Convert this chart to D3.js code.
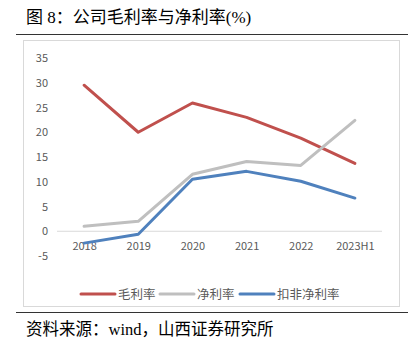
<!DOCTYPE html>
<html lang="zh">
<head>
<meta charset="UTF-8">
<title>公司毛利率与净利率</title>
<script src="https://d3js.org/d3.v7.min.js"></script>
<style>
    body { margin: 0; background: #fff; }
    svg { display: block; }
</style>
</head>
<body>
<svg id="chart" width="419" height="354"></svg>
<script>
    // data
    const years = ["2018", "2019", "2020", "2021", "2022", "2023H1"];
    const grossMargin = [29.5, 20.0, 25.9, 23.0, 18.8, 13.7];
    const netMargin = [1.0, 2.0, 11.5, 14.1, 13.3, 22.4];
    const deductedNetMargin = [-2.4, -0.6, 10.5, 12.1, 10.1, 6.7];
    const yTicks = [-5, 0, 5, 10, 15, 20, 25, 30, 35];
    const seriesNames = ["毛利率", "净利率", "扣非净利率"];

    const series = [
        { name: seriesNames[0], values: grossMargin, color: "#C0504D" },
        { name: seriesNames[1], values: netMargin, color: "#BFBFBF" },
        { name: seriesNames[2], values: deductedNetMargin, color: "#4F81BD" }
    ];

    const svg = d3.select("#chart");
    const cjk = "'Noto Sans CJK SC', sans-serif";
    const serifCjk = "'Liberation Serif', 'Noto Sans CJK SC', serif";

    // title + rules
    svg.append("text")
        .attr("x", 26).attr("y", 23)
        .attr("font-family", serifCjk)
        .attr("font-size", 17)
        .attr("fill", "#000")
        .text("图 8：公司毛利率与净利率(%)");

    svg.append("line")
        .attr("x1", 16).attr("x2", 408).attr("y1", 34.5).attr("y2", 34.5)
        .attr("stroke", "#333").attr("stroke-width", 1);

    svg.append("rect")
        .attr("x", 23.5).attr("y", 40.5).attr("width", 376).attr("height", 266)
        .attr("fill", "none").attr("stroke", "#D9D9D9");

    svg.append("line")
        .attr("x1", 16).attr("x2", 408).attr("y1", 312.5).attr("y2", 312.5)
        .attr("stroke", "#333").attr("stroke-width", 1);

    svg.append("text")
        .attr("x", 26).attr("y", 335)
        .attr("font-family", serifCjk)
        .attr("font-size", 16.5)
        .attr("fill", "#000")
        .text("资料来源：wind，山西证券研究所");

    const x = d3.scalePoint().domain(years).range([57, 382]).padding(0.5);
    const y = d3.scaleLinear().domain([-5, 35]).range([256, 58]);

    // y axis labels
    const yAxis = svg.append("g")
        .attr("transform", "translate(48,0)")
        .call(d3.axisLeft(y).tickValues(yTicks).tickSize(0).tickPadding(0)
            .tickFormat(d => String(d)));
    yAxis.select(".domain").remove();
    yAxis.selectAll("text")
        .attr("font-family", cjk).attr("font-size", 11).attr("fill", "#595959");

    // zero line
    svg.append("line")
        .attr("x1", 57).attr("x2", 382)
        .attr("y1", y(0)).attr("y2", y(0))
        .attr("stroke", "#D9D9D9").attr("stroke-width", 1);

    // x axis labels sit under the zero line
    const xAxis = svg.append("g")
        .attr("transform", `translate(0,${y(0) + 11})`)
        .call(d3.axisBottom(x).tickSize(0).tickPadding(0));
    xAxis.select(".domain").remove();
    xAxis.selectAll("text")
        .attr("font-family", cjk).attr("font-size", 11).attr("fill", "#595959");

    const line = d3.line()
        .x((d, i) => x(years[i]))
        .y(d => y(d));

    svg.selectAll(".series")
        .data(series)
        .enter()
        .append("path")
        .attr("class", "series")
        .attr("d", d => line(d.values))
        .attr("fill", "none")
        .attr("stroke", d => d.color)
        .attr("stroke-width", 3)
        .attr("stroke-linejoin", "round")
        .attr("stroke-linecap", "round");

    // legend
    const legendX = [81, 160, 240];
    const legend = svg.selectAll(".legend")
        .data(series)
        .enter()
        .append("g")
        .attr("class", "legend")
        .attr("transform", (d, i) => `translate(${legendX[i]},294)`);
    legend.append("line")
        .attr("x1", 0).attr("x2", 34)
        .attr("stroke", d => d.color)
        .attr("stroke-width", 3)
        .attr("stroke-linecap", "round");
    legend.append("text")
        .attr("x", 37).attr("y", 4.5)
        .attr("font-family", cjk).attr("font-size", 12.5).attr("fill", "#595959")
        .text(d => d.name);
</script>
</body>
</html>
